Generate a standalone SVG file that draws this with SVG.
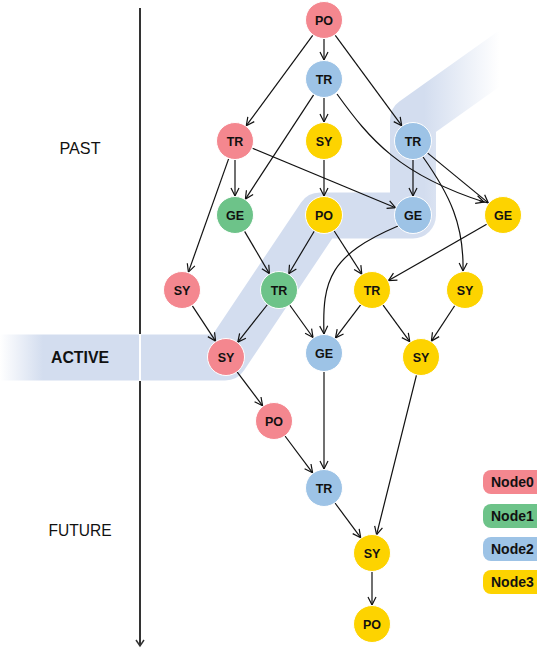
<svg xmlns="http://www.w3.org/2000/svg" width="537" height="649" viewBox="0 0 537 649">
<defs>
<linearGradient id="bandGrad" gradientUnits="userSpaceOnUse" x1="0" y1="0" x2="537" y2="0">
<stop offset="0" stop-color="#d3ddef" stop-opacity="0"/>
<stop offset="0.08" stop-color="#d3ddef" stop-opacity="1"/>
<stop offset="0.79" stop-color="#d3ddef" stop-opacity="1"/>
<stop offset="0.93" stop-color="#d3ddef" stop-opacity="0"/>
</linearGradient>
<marker id="arr" viewBox="-10 -6 12 12" refX="0" refY="0" markerWidth="12" markerHeight="12" markerUnits="userSpaceOnUse" orient="auto">
<path d="M-8,-4 L0,0 L-8,4" fill="none" stroke="#111" stroke-width="1.2"/>
</marker>
<marker id="axarr" viewBox="-10 -6 12 12" refX="0" refY="0" markerWidth="12" markerHeight="12" markerUnits="userSpaceOnUse" orient="auto">
<path d="M-6,-4 L0,0 L-6,4" fill="none" stroke="#333" stroke-width="1.5"/>
</marker>
</defs>
<style>
.n circle{stroke:#fff;stroke-width:1}
.n text{font-family:"Liberation Sans",Arial,sans-serif;font-weight:bold;font-size:12.5px;fill:#111;text-anchor:middle}
.c0{fill:#f4878f}.c1{fill:#6dc389}.c2{fill:#9dc3e6}.c3{fill:#fdd300}
#edges path,#edges line{stroke:#111;stroke-width:1.2;fill:none;marker-end:url(#arr)}
.side{font-family:"Liberation Sans",Arial,sans-serif;font-size:17px;fill:#111;text-anchor:middle}
.leg text{font-family:"Liberation Sans",Arial,sans-serif;font-weight:bold;font-size:14px;fill:#111}
</style>
<rect width="537" height="649" fill="#fff"/>
<line x1="140" y1="8" x2="140" y2="646" stroke="#333" stroke-width="2" marker-end="url(#axarr)"/>
<path id="band" d="M0,357.5 L225,357.5 L320,215.5 L413,215.5 L413,120 L545,26" fill="none" stroke="url(#bandGrad)" stroke-width="46" stroke-linejoin="round"/>
<line x1="140" y1="334" x2="140" y2="381" stroke="#fff" stroke-width="2"/>
<text class="side" x="80" y="154" textLength="41" lengthAdjust="spacingAndGlyphs">PAST</text>
<text class="side" x="80" y="363" font-weight="bold" textLength="58" lengthAdjust="spacingAndGlyphs">ACTIVE</text>
<text class="side" x="80" y="536" textLength="63" lengthAdjust="spacingAndGlyphs">FUTURE</text>
<g id="edges">
<line x1="324" y1="39" x2="324" y2="60"/>
<line x1="312.7" y1="35.3" x2="246.3" y2="125.7"/>
<line x1="335.3" y1="35.3" x2="401.7" y2="125.7"/>
<line x1="324" y1="98" x2="324" y2="122"/>
<line x1="313.6" y1="94.9" x2="245.4" y2="199.1"/>
<path d="M337,94 C370,140 400,175 484,202"/>
<line x1="235" y1="160" x2="235" y2="196"/>
<line x1="228.6" y1="158.9" x2="188.4" y2="272.1"/>
<line x1="252.5" y1="148.3" x2="395.5" y2="207.7"/>
<line x1="324" y1="160" x2="324" y2="196"/>
<line x1="413" y1="160" x2="413" y2="196"/>
<line x1="427.7" y1="153.1" x2="488.3" y2="202.9"/>
<path d="M423,157 C450,195 464,225 463,271"/>
<line x1="244.6" y1="231.4" x2="269.4" y2="273.6"/>
<line x1="314.2" y1="231.3" x2="288.8" y2="273.7"/>
<line x1="334.2" y1="231" x2="361.8" y2="274"/>
<path d="M398,226 C330,255 322,280 324,334"/>
<line x1="487.1" y1="224.1" x2="388.5" y2="280.6"/>
<line x1="192.4" y1="305.9" x2="215.6" y2="341.1"/>
<line x1="267.5" y1="304.5" x2="237.8" y2="342.1"/>
<line x1="289.7" y1="305" x2="313" y2="337.5"/>
<line x1="360.8" y1="304.7" x2="335.5" y2="337.9"/>
<line x1="382.9" y1="304.9" x2="409.8" y2="341.7"/>
<line x1="454.8" y1="305.5" x2="431.4" y2="341.1"/>
<line x1="237.1" y1="371.8" x2="262.6" y2="405.8"/>
<line x1="324" y1="372" x2="324" y2="469"/>
<line x1="416.5" y1="375" x2="376.6" y2="534.6"/>
<line x1="285" y1="436" x2="312.6" y2="472.8"/>
<line x1="335" y1="503" x2="360.7" y2="537.7"/>
<line x1="372" y1="572" x2="372" y2="605"/>
</g>
<g id="n0" class="n"><circle class="c0" cx="324" cy="20" r="18.5"/><text x="324" y="24.5">PO</text></g>
<g id="n1" class="n"><circle class="c2" cx="324" cy="79" r="18.5"/><text x="324" y="83.5">TR</text></g>
<g id="n2" class="n"><circle class="c0" cx="235" cy="141" r="18.5"/><text x="235" y="145.5">TR</text></g>
<g id="n3" class="n"><circle class="c3" cx="324" cy="141" r="18.5"/><text x="324" y="145.5">SY</text></g>
<g id="n4" class="n"><circle class="c2" cx="413" cy="141" r="18.5"/><text x="413" y="145.5">TR</text></g>
<g id="n5" class="n"><circle class="c1" cx="235" cy="215" r="18.5"/><text x="235" y="219.5">GE</text></g>
<g id="n6" class="n"><circle class="c3" cx="324" cy="215" r="18.5"/><text x="324" y="219.5">PO</text></g>
<g id="n7" class="n"><circle class="c2" cx="413" cy="215" r="18.5"/><text x="413" y="219.5">GE</text></g>
<g id="n8" class="n"><circle class="c3" cx="503" cy="215" r="18.5"/><text x="503" y="219.5">GE</text></g>
<g id="n9" class="n"><circle class="c0" cx="182" cy="290" r="18.5"/><text x="182" y="294.5">SY</text></g>
<g id="n10" class="n"><circle class="c1" cx="279" cy="290" r="18.5"/><text x="279" y="294.5">TR</text></g>
<g id="n11" class="n"><circle class="c3" cx="372" cy="290" r="18.5"/><text x="372" y="294.5">TR</text></g>
<g id="n12" class="n"><circle class="c3" cx="465" cy="290" r="18.5"/><text x="465" y="294.5">SY</text></g>
<g id="n13" class="n"><circle class="c0" cx="226" cy="357" r="18.5"/><text x="226" y="361.5">SY</text></g>
<g id="n14" class="n"><circle class="c2" cx="324" cy="353" r="18.5"/><text x="324" y="357.5">GE</text></g>
<g id="n15" class="n"><circle class="c3" cx="421" cy="357" r="18.5"/><text x="421" y="361.5">SY</text></g>
<g id="n16" class="n"><circle class="c0" cx="274" cy="421" r="18.5"/><text x="274" y="425.5">PO</text></g>
<g id="n17" class="n"><circle class="c2" cx="324" cy="488" r="18.5"/><text x="324" y="492.5">TR</text></g>
<g id="n18" class="n"><circle class="c3" cx="372" cy="553" r="18.5"/><text x="372" y="557.5">SY</text></g>
<g id="n19" class="n"><circle class="c3" cx="372" cy="624" r="18.5"/><text x="372" y="628.5">PO</text></g>
<g id="legend" class="leg">
<g id="leg0"><rect class="c0" x="483" y="470" width="70" height="24" rx="8"/><text x="491" y="487">Node0</text></g>
<g id="leg1"><rect class="c1" x="483" y="504" width="70" height="24" rx="8"/><text x="491" y="521">Node1</text></g>
<g id="leg2"><rect class="c2" x="483" y="537" width="70" height="24" rx="8"/><text x="491" y="554">Node2</text></g>
<g id="leg3"><rect class="c3" x="483" y="570" width="70" height="24" rx="8"/><text x="491" y="587">Node3</text></g>
</g>
</svg>
